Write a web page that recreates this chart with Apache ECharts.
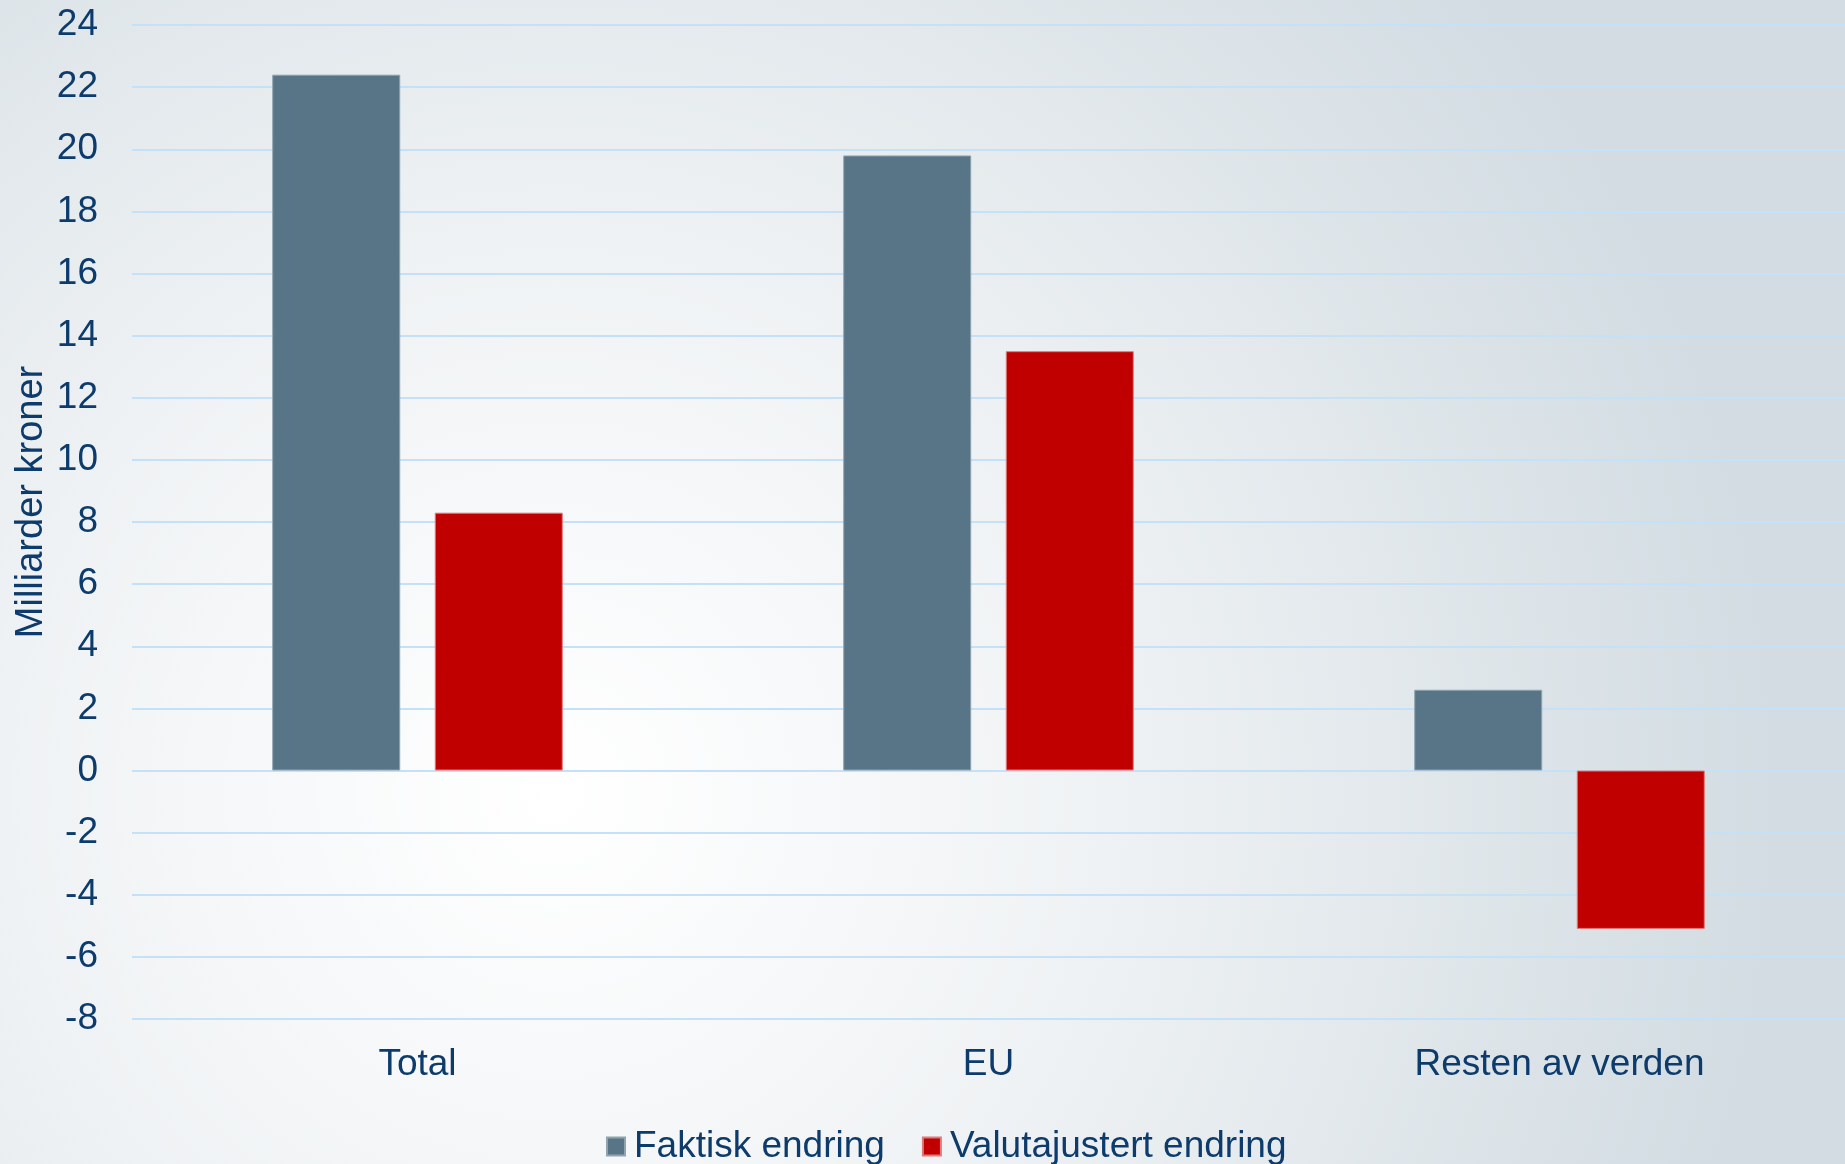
<!DOCTYPE html>
<html>
<head>
<meta charset="utf-8">
<script src="https://cdn.jsdelivr.net/npm/echarts@6/dist/echarts.min.js"></script>
<style>
html,body{margin:0;padding:0;}
#chart{width:1845px;height:1164px;}
</style>
</head>
<body>
<div id="chart"></div>
<script>
const categories = ['Total', 'EU', 'Resten av verden'];
const faktisk = [22.4, 19.8, 2.6];
const valutajustert = [8.3, 13.5, -5.1];
const seriesNames = ['Faktisk endring', 'Valutajustert endring'];
const yAxisName = 'Milliarder kroner';

const textColor = '#0c3b6c';
const font = 'Liberation Sans, Arial, sans-serif';

const chart = echarts.init(document.getElementById('chart'), null, {renderer: 'canvas'});
chart.setOption({
  backgroundColor: {
    type: 'radial', x: 0.3, y: 0.68, r: 1.05,
    colorStops: [
      {offset: 0, color: '#ffffff'},
      {offset: 0.45, color: '#eff2f4'},
      {offset: 1, color: '#d2dce2'}
    ]
  },
  animation: false,
  textStyle: {fontFamily: font},
  grid: {left: 132, right: 0, top: 25, bottom: 145, containLabel: false},
  legend: {
    left: 601, top: 1123,
    itemWidth: 18, itemHeight: 18, itemGap: 37,
    icon: 'rect',
    textStyle: {color: textColor, fontSize: 37, fontFamily: font, padding: [0, 0, 0, 4]},
    data: seriesNames
  },
  xAxis: {
    type: 'category',
    data: categories,
    axisLine: {show: false},
    axisTick: {show: false},
    axisLabel: {color: textColor, fontSize: 37, margin: 27, fontFamily: font},
    splitLine: {show: false}
  },
  yAxis: {
    type: 'value',
    min: -8, max: 24, interval: 2,
    name: yAxisName,
    nameLocation: 'middle',
    nameGap: 81,
    nameMoveOverlap: false,
    nameTextStyle: {color: textColor, fontSize: 38, fontFamily: font, padding: [0, 0, 0, 40]},
    axisLine: {show: false},
    axisTick: {show: false},
    axisLabel: {color: textColor, fontSize: 37, margin: 34, fontFamily: font},
    splitLine: {lineStyle: {color: '#c4e1f8', width: 2}}
  },
  series: [
    {
      name: seriesNames[0], type: 'bar', data: faktisk,
      barWidth: 128, barGap: '27%',
      itemStyle: {color: '#587487', borderColor: '#8fa3b0', borderWidth: 1}
    },
    {
      name: seriesNames[1], type: 'bar', data: valutajustert,
      barWidth: 128,
      itemStyle: {color: '#c00000', borderColor: '#e07a7a', borderWidth: 1}
    }
  ]
});
</script>
</body>
</html>
